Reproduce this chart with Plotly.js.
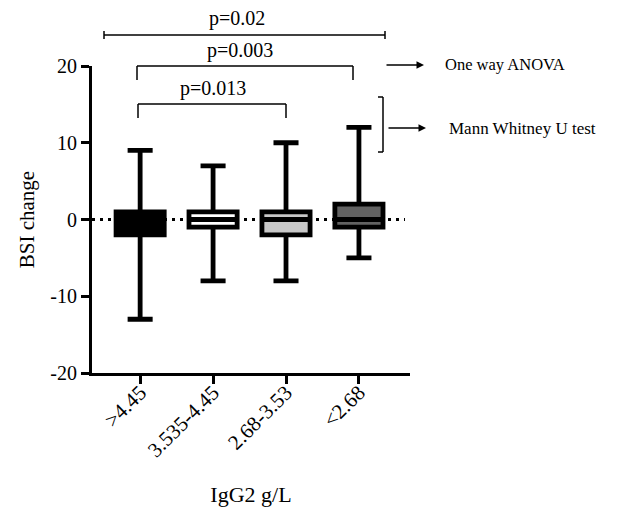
<!DOCTYPE html>
<html>
<head>
<meta charset="utf-8">
<script src="https://cdn.plot.ly/plotly-3.0.1.min.js"></script>
<style>html,body{margin:0;padding:0;background:#fff;}#chart{width:621px;height:513px;}</style>
</head>
<body>
<div id="chart"></div>
<script>
const categories = ['>4.45', '3.535-4.45', '2.68-3.53', '<2.68'];
const q1 = [-2, -1, -2, -1];
const median = [0, 0, 0, 0];
const q3 = [1, 1, 1, 2];
const lowerWhisker = [-13, -8, -8, -5];
const upperWhisker = [9, 7, 10, 12];
const fills = ['#000000', '#ffffff', '#c8c8c8', '#626262'];
const yTickVals = [-20, -10, 0, 10, 20];
const yTickText = ['-20', '-10', '0', '10', '20'];

const FONT = '"Liberation Serif", "Times New Roman", serif';

const traces = categories.map((c, i) => ({
  type: 'box',
  x: [c],
  q1: [q1[i]],
  median: [median[i]],
  q3: [q3[i]],
  lowerfence: [lowerWhisker[i]],
  upperfence: [upperWhisker[i]],
  fillcolor: fills[i],
  line: {color: '#000', width: 4.8},
  width: 0.66,
  whiskerwidth: 0.52,
  boxpoints: false,
  showlegend: false,
  hoverinfo: 'skip'
}));

const px = v => (v - 92) / 318;
const py = v => (373 - v) / 307;
const L = (x0, y0, x1, y1, w) => ({type: 'line', xref: 'paper', yref: 'paper',
  x0: px(x0), y0: py(y0), x1: px(x1), y1: py(y1), line: {color: '#000', width: w || 1.5}});

const shapes = [
  {type: 'line', xref: 'paper', yref: 'y', x0: 0, x1: px(405), y0: 0, y1: 0,
   line: {color: '#000', width: 3, dash: '3px,5px'}, layer: 'below'},
  // p=0.02
  L(104, 35, 385, 35), L(104, 31, 104, 39), L(385, 31, 385, 39),
  // p=0.003
  L(137, 66, 353, 66), L(137, 66, 137, 80), L(353, 66, 353, 80),
  // p=0.013
  L(138, 104, 286, 104), L(138, 104, 138, 118), L(286, 104, 286, 118),
  // right bracket
  L(383, 97, 383, 152), L(378, 97, 383, 97), L(378, 152, 383, 152)
];

const ann = (text, x, y, size, anchor) => ({text, xref: 'paper', yref: 'paper', x: px(x), y: py(y),
  showarrow: false, xanchor: anchor || 'center', yanchor: 'middle', font: {family: FONT, size: size, color: '#000'}});

const annotations = [
  ann('p=0.02', 237, 19, 20),
  ann('p=0.003', 240, 51, 20),
  ann('p=0.013', 213, 88, 20),
  ann('One way ANOVA', 443, 64, 16.5, 'left'),
  ann('Mann Whitney U test', 447, 128, 17, 'left'),
  {text: '', xref: 'paper', yref: 'paper', x: px(424), y: py(65), ax: -39, ay: 0,
   showarrow: true, arrowhead: 2, arrowsize: 1, arrowwidth: 1.5, arrowcolor: '#000'},
  {text: '', xref: 'paper', yref: 'paper', x: px(426), y: py(128), ax: -39, ay: 0,
   showarrow: true, arrowhead: 2, arrowsize: 1, arrowwidth: 1.5, arrowcolor: '#000'}
];

const layout = {
  width: 621, height: 513,
  margin: {l: 92, r: 211, t: 66, b: 140, pad: 0},
  paper_bgcolor: '#fff', plot_bgcolor: '#fff',
  font: {family: FONT, color: '#000'},
  boxmode: 'overlay',
  showlegend: false,
  xaxis: {
    type: 'category', range: [-0.66, 3.7],
    showline: true, linecolor: '#000', linewidth: 3, showgrid: false, zeroline: false,
    ticks: 'outside', ticklen: 8, tickwidth: 3, tickcolor: '#000',
    tickangle: -45, ticklabelstandoff: -12, tickfont: {family: FONT, size: 21, color: '#000'},
    title: {text: 'IgG2 g/L', font: {family: FONT, size: 22, color: '#000'}, standoff: 26}
  },
  yaxis: {
    range: [-20, 20], tickmode: 'array', tickvals: yTickVals, ticktext: yTickText,
    showline: true, linecolor: '#000', linewidth: 3, showgrid: false, zeroline: false,
    ticks: 'outside', ticklen: 8, tickwidth: 3, tickcolor: '#000',
    tickfont: {family: FONT, size: 20, color: '#000'},
    title: {text: 'BSI change', font: {family: FONT, size: 21, color: '#000'}, standoff: 10}
  },
  shapes: shapes,
  annotations: annotations
};

Plotly.newPlot('chart', traces, layout, {staticPlot: true, displayModeBar: false});
</script>
</body>
</html>
